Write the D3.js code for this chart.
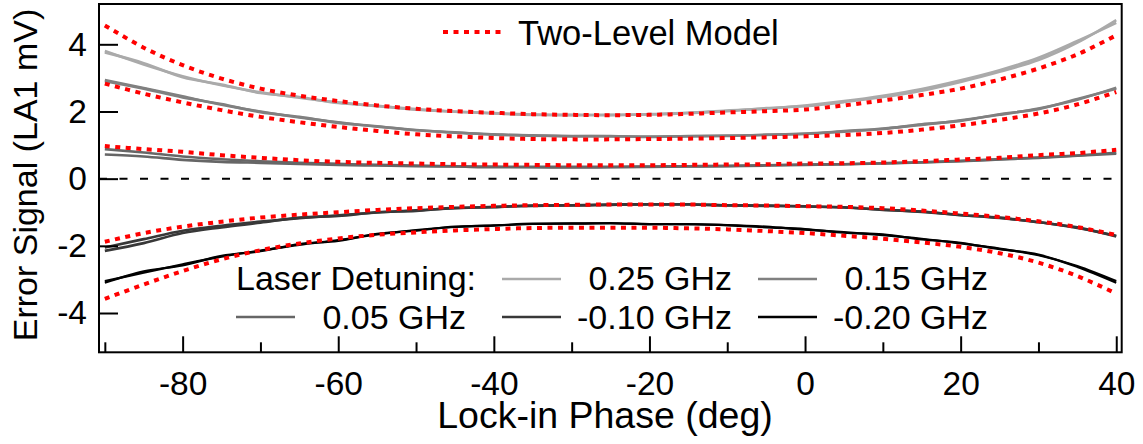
<!DOCTYPE html>
<html>
<head>
<meta charset="utf-8">
<script src="https://cdn.jsdelivr.net/npm/d3@7/dist/d3.min.js"></script>
<style>
  html, body { margin: 0; padding: 0; background: #fff; }
  svg { display: block; }
  text { font-family: "Liberation Sans", Arial, Helvetica, sans-serif; fill: #000; }
</style>
</head>
<body>
<svg id="chart" width="1143" height="444"></svg>
<script>
// Lock-in phase sample points (deg)
const phase = [-90, -85, -80, -75, -70, -65, -60, -55, -50, -45, -40, -35, -30,
               -25, -20, -15, -10, -5, 0, 5, 10, 15, 20, 25, 30, 35, 40];

// Measured error signal (mV), two scans per laser detuning
const meas025a = [3.80, 3.40, 3.05, 2.78, 2.57, 2.41, 2.27, 2.16, 2.07, 1.99, 1.94, 1.91, 1.89,
                  1.90, 1.91, 1.95, 2.01, 2.10, 2.16, 2.28, 2.43, 2.62, 2.88, 3.18, 3.53, 4.05, 4.72];
const meas025b = [3.76, 3.44, 3.02, 2.80, 2.55, 2.43, 2.25, 2.17, 2.05, 2.00, 1.95, 1.90, 1.90,
                  1.89, 1.92, 1.96, 2.03, 2.08, 2.18, 2.31, 2.47, 2.67, 2.93, 3.23, 3.60, 4.10, 4.64];
const meas015a = [2.94, 2.70, 2.45, 2.20, 2.00, 1.82, 1.68, 1.55, 1.45, 1.37, 1.32, 1.28, 1.27,
                  1.26, 1.25, 1.26, 1.28, 1.30, 1.34, 1.40, 1.49, 1.60, 1.74, 1.90, 2.09, 2.35, 2.71];
const meas015b = [2.90, 2.68, 2.42, 2.22, 1.98, 1.84, 1.66, 1.56, 1.44, 1.38, 1.31, 1.29, 1.26,
                  1.27, 1.24, 1.27, 1.27, 1.31, 1.33, 1.42, 1.48, 1.62, 1.72, 1.92, 2.07, 2.37, 2.68];
const meas005a = [0.88, 0.78, 0.66, 0.58, 0.52, 0.47, 0.44, 0.41, 0.39, 0.37, 0.36, 0.35, 0.35,
                  0.35, 0.36, 0.37, 0.38, 0.40, 0.42, 0.43, 0.46, 0.49, 0.53, 0.58, 0.63, 0.69, 0.77];
const meas005b = [0.72, 0.66, 0.56, 0.50, 0.47, 0.44, 0.41, 0.39, 0.37, 0.36, 0.34, 0.34, 0.33,
                  0.34, 0.35, 0.36, 0.37, 0.39, 0.41, 0.43, 0.45, 0.48, 0.52, 0.57, 0.62, 0.68, 0.74];
const measM010a = [-2.05, -1.80, -1.55, -1.40, -1.28, -1.18, -1.09, -1.01, -0.94, -0.88, -0.84, -0.81, -0.79,
                   -0.77, -0.76, -0.77, -0.79, -0.80, -0.82, -0.86, -0.92, -0.99, -1.08, -1.17, -1.29, -1.47, -1.70];
const measM010b = [-2.15, -1.92, -1.62, -1.45, -1.31, -1.16, -1.11, -1.00, -0.96, -0.87, -0.85, -0.80, -0.80,
                   -0.78, -0.77, -0.76, -0.80, -0.81, -0.83, -0.85, -0.93, -0.98, -1.09, -1.16, -1.30, -1.45, -1.72];
const measM020a = [-3.05, -2.80, -2.55, -2.32, -2.14, -1.97, -1.83, -1.66, -1.53, -1.44, -1.39, -1.35, -1.33,
                   -1.33, -1.35, -1.36, -1.38, -1.43, -1.52, -1.59, -1.68, -1.79, -1.93, -2.08, -2.28, -2.60, -3.05];
const measM020b = [-3.10, -2.76, -2.58, -2.30, -2.16, -1.95, -1.85, -1.64, -1.55, -1.43, -1.40, -1.34, -1.34,
                   -1.32, -1.36, -1.35, -1.39, -1.45, -1.50, -1.61, -1.66, -1.81, -1.91, -2.10, -2.26, -2.63, -3.10];

// Two-level model curves (mV)
const model025 = [4.56, 3.90, 3.38, 2.98, 2.68, 2.47, 2.31, 2.18, 2.08, 2.01, 1.96, 1.92, 1.90,
                  1.89, 1.90, 1.93, 1.97, 2.01, 2.06, 2.18, 2.33, 2.49, 2.68, 2.95, 3.28, 3.70, 4.27];
const model015 = [2.83, 2.53, 2.27, 2.04, 1.84, 1.68, 1.54, 1.42, 1.32, 1.26, 1.21, 1.18, 1.17,
                  1.17, 1.18, 1.19, 1.21, 1.23, 1.26, 1.30, 1.36, 1.46, 1.59, 1.75, 1.94, 2.21, 2.58];
const model005 = [0.97, 0.88, 0.80, 0.70, 0.62, 0.55, 0.50, 0.47, 0.45, 0.43, 0.42, 0.41, 0.40,
                  0.40, 0.40, 0.41, 0.42, 0.43, 0.45, 0.46, 0.48, 0.52, 0.57, 0.62, 0.70, 0.76, 0.86];
const modelM010 = [-1.88, -1.62, -1.43, -1.28, -1.16, -1.07, -1.00, -0.93, -0.88, -0.84, -0.81, -0.79, -0.78,
                   -0.77, -0.77, -0.77, -0.79, -0.80, -0.82, -0.84, -0.88, -0.95, -1.04, -1.14, -1.27, -1.44, -1.68];
const modelM020 = [-3.58, -3.15, -2.75, -2.40, -2.13, -1.93, -1.78, -1.67, -1.60, -1.54, -1.50, -1.47, -1.46,
                   -1.46, -1.46, -1.48, -1.51, -1.56, -1.62, -1.70, -1.79, -1.90, -2.03, -2.22, -2.50, -2.90, -3.42];

// Detuning labels and trace colours
const detuningLabels = ["0.25 GHz", "0.15 GHz", "0.05 GHz", "-0.10 GHz", "-0.20 GHz"];
const traceColors = ["#aaaaaa", "#808080", "#666666", "#383838", "#000000"];

// Axis ticks
const yTicks = [-4, -2, 0, 2, 4];
const xMajorTicks = [-80, -60, -40, -20, 0, 20, 40];
const xMinorTicks = [-90, -70, -50, -30, -10, 10, 30];

const svg = d3.select("#chart");
const frame = { left: 99, right: 1121.7, top: 4, bottom: 352.3 };

const x = d3.scaleLinear().domain([-90.75, 40.7]).range([frame.left, frame.right]);
const y = d3.scaleLinear().domain([-5.17, 5.2]).range([frame.bottom, frame.top]);

const measured = [
  [meas025a, meas025b], [meas015a, meas015b], [meas005a, meas005b],
  [measM010a, measM010b], [measM020a, measM020b]
];
const models = [model025, model015, model005, modelM010, modelM020];

// plain hyphen-minus tick labels
const plainFormat = d => String(d);

const traceLine = d3.line()
  .x(d => x(d[0]))
  .y(d => y(d[1]))
  .curve(d3.curveMonotoneX);
const modelLine = d3.line()
  .x(d => x(d[0]))
  .y(d => y(d[1]))
  .curve(d3.curveCatmullRom.alpha(0.5));

const plot = svg.append("g");

// zero reference line
plot.append("line")
  .attr("x1", frame.left).attr("x2", frame.right)
  .attr("y1", y(0)).attr("y2", y(0))
  .attr("stroke", "#000").attr("stroke-width", 2)
  .attr("stroke-dasharray", "8 12.5");

// measured traces
measured.forEach((pair, i) => {
  pair.forEach(vals => {
    plot.append("path")
      .datum(phase.map((p, k) => [p, vals[k]]))
      .attr("fill", "none")
      .attr("stroke", traceColors[i])
      .attr("stroke-width", i === 4 ? 2.2 : 2.6)
      .attr("stroke-linejoin", "round")
      .attr("d", traceLine);
  });
});

// model curves
models.forEach(vals => {
  plot.append("path")
    .datum(phase.map((p, k) => [p, vals[k]]))
    .attr("fill", "none")
    .attr("stroke", "#ff0000")
    .attr("stroke-width", 4)
    .attr("stroke-dasharray", "5 5.5")
    .attr("d", modelLine);
});

// frame
svg.append("rect")
  .attr("x", frame.left).attr("y", frame.top)
  .attr("width", frame.right - frame.left).attr("height", frame.bottom - frame.top)
  .attr("fill", "none").attr("stroke", "#000").attr("stroke-width", 2);

// y axis: ticks pointing inward
const yAxis = d3.axisLeft(y).tickValues(yTicks).tickSize(-19).tickPadding(12)
  .tickFormat(plainFormat);
const gy = svg.append("g").attr("transform", `translate(${frame.left},0)`).call(yAxis);
gy.select(".domain").remove();
gy.selectAll(".tick line").attr("stroke", "#000").attr("stroke-width", 2);
gy.selectAll(".tick text").attr("font-size", 33.5).attr("fill", "#000")
  .attr("font-family", "Liberation Sans, Arial, sans-serif");

// x axis: major and minor ticks pointing inward
const xAxis = d3.axisBottom(x).tickValues(xMajorTicks).tickSize(-16).tickPadding(19)
  .tickFormat(plainFormat);
const gx = svg.append("g").attr("transform", `translate(0,${frame.bottom})`).call(xAxis);
gx.select(".domain").remove();
gx.selectAll(".tick line").attr("stroke", "#000").attr("stroke-width", 2);
gx.selectAll(".tick text").attr("font-size", 33.5).attr("fill", "#000")
  .attr("font-family", "Liberation Sans, Arial, sans-serif");

const xMinor = d3.axisBottom(x).tickValues(xMinorTicks).tickSize(-10).tickFormat("");
const gxm = svg.append("g").attr("transform", `translate(0,${frame.bottom})`).call(xMinor);
gxm.select(".domain").remove();
gxm.selectAll(".tick line").attr("stroke", "#000").attr("stroke-width", 2);

// axis titles
svg.append("text")
  .attr("x", 605).attr("y", 428)
  .attr("text-anchor", "middle").attr("font-size", 37.5)
  .text("Lock-in Phase (deg)");
svg.append("text")
  .attr("transform", "translate(37,175) rotate(-90)")
  .attr("text-anchor", "middle").attr("font-size", 34)
  .text("Error Signal (LA1 mV)");

// legend: model
svg.append("line")
  .attr("x1", 443).attr("x2", 503).attr("y1", 32).attr("y2", 32)
  .attr("stroke", "#ff0000").attr("stroke-width", 4).attr("stroke-dasharray", "5 5.5");
svg.append("text").attr("x", 518).attr("y", 45).attr("font-size", 34.5)
  .text("Two-Level Model");

// legend: detunings
svg.append("text").attr("x", 236).attr("y", 290).attr("font-size", 34)
  .text("Laser Detuning:");
const legendSlots = [
  { x0: 502, x1: 561, ly: 279, tx: 732, ty: 290 },
  { x0: 758, x1: 817, ly: 279, tx: 988, ty: 290 },
  { x0: 236, x1: 295, ly: 317, tx: 466, ty: 328.5 },
  { x0: 502, x1: 561, ly: 317, tx: 732, ty: 328.5 },
  { x0: 758, x1: 817, ly: 317, tx: 988, ty: 328.5 }
];
const lg = svg.append("g");
lg.selectAll("line.key").data(detuningLabels).join("line")
  .attr("class", "key")
  .attr("x1", (d, i) => legendSlots[i].x0).attr("x2", (d, i) => legendSlots[i].x1)
  .attr("y1", (d, i) => legendSlots[i].ly).attr("y2", (d, i) => legendSlots[i].ly)
  .attr("stroke", (d, i) => traceColors[i]).attr("stroke-width", 2.5);
lg.selectAll("text.key").data(detuningLabels).join("text")
  .attr("class", "key")
  .attr("x", (d, i) => legendSlots[i].tx).attr("y", (d, i) => legendSlots[i].ty)
  .attr("text-anchor", "end").attr("font-size", 34)
  .text(d => d);
</script>
</body>
</html>
